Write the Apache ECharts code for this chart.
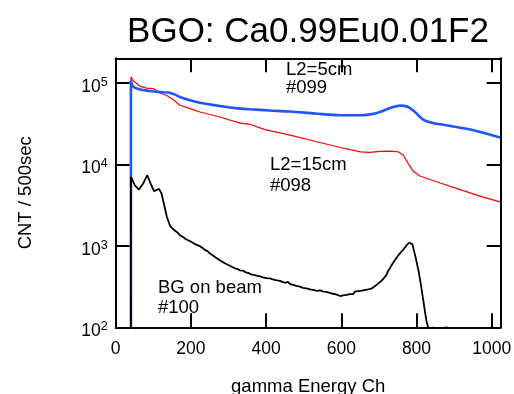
<!DOCTYPE html>
<html>
<head>
<meta charset="utf-8">
<script src="https://cdn.jsdelivr.net/npm/echarts@6/dist/echarts.min.js"></script>
<style>
  html, body { margin: 0; padding: 0; background: #fff; }
  #chart { width: 514px; height: 394px; }
</style>
</head>
<body>
<div id="chart"></div>
<script>
// 数据：按图读取的 [道, 计数]
const titleText = 'BGO: Ca0.99Eu0.01F2';
const xName = 'gamma Energy Ch';
const yName = 'CNT / 500sec';
const xTickLabels = ['0', '200', '400', '600', '800', '1000'];
const yTickExps = [2, 3, 4, 5];

// L2=5cm #099
const run099 = [
  [40.5, 10], [40.5, 107000], [46, 90600], [65, 82600], [91, 79500], [118, 77000],
  [140, 76000], [158, 71600], [171, 67000], [198, 61000], [224, 57000], [277, 52000],
  [331, 48300], [357, 47300], [410, 45800], [464, 44400], [530, 42000], [597, 40000],
  [651, 40000], [677, 41000], [703, 43900], [730, 49100], [756, 52500], [778, 50500],
  [796, 43800], [818, 35400], [845, 32000], [863, 31000], [943, 26700], [1022, 21300],
];

// L2=15cm #098
const run098 = [
  [40.5, 10], [40.5, 118000], [46, 107000], [65, 90600], [82, 86000], [100, 85000],
  [118, 75000], [136, 70000], [153, 62000], [171, 53000], [198, 48300], [224, 43900],
  [277, 38100], [331, 32000], [357, 31000], [397, 26700], [464, 22800], [530, 19200],
  [597, 16100], [651, 14200], [676, 14000], [703, 14400], [730, 14500], [752, 14200],
  [765, 12900], [778, 10200], [791, 8300], [809, 7200], [863, 5900], [916, 4900],
  [969, 4070], [1022, 3460],
];

// BG on beam #100
const run100 = [
  [40.5, 10], [40.5, 7000], [51, 5500], [62, 4900], [73, 5800], [84, 7350], [93, 5800],
  [102, 4680], [115, 5000], [122, 4390], [128, 3300], [136, 2270], [144, 1790],
  [150, 1650], [154, 1560], [158, 1530], [161, 1480], [164, 1460], [168, 1410], [171, 1350],
  [175, 1330], [178, 1290], [182, 1260], [185, 1220], [188, 1230], [191, 1180], [195, 1170],
  [198, 1140], [201, 1150], [204, 1100], [208, 1090], [211, 1050], [214, 1070], [217, 1020],
  [221, 1010], [224, 990], [227, 970], [230, 950], [234, 930], [237, 890], [241, 900],
  [244, 860], [247, 850], [251, 800], [254, 810], [257, 770], [261, 760], [264, 730],
  [267, 745], [270, 700], [274, 690], [277, 665], [280, 670], [283, 640], [287, 625],
  [290, 610], [293, 620], [297, 590], [300, 595], [304, 570], [307, 575], [310, 550],
  [314, 555], [317, 530], [321, 540], [324, 520], [327, 525], [330, 500], [334, 512],
  [339, 495], [342, 505], [346, 472], [349, 482], [352, 465], [355, 476], [358, 450],
  [362, 462], [366, 440], [370, 452], [375, 430], [379, 444], [384, 422], [388, 432],
  [392, 410], [396, 425], [400, 402], [405, 418], [410, 398], [414, 410], [418, 388],
  [422, 398], [426, 380], [431, 392], [437, 372], [441, 382], [445, 358], [449, 370],
  [452, 352], [458, 362], [464, 338], [468, 350], [472, 332], [476, 344], [480, 322],
  [485, 332], [490, 315], [494, 326], [498, 304], [503, 318], [507, 300], [512, 310],
  [517, 292], [521, 304], [525, 288], [530, 298], [535, 280], [540, 294], [544, 284],
  [548, 292], [552, 274], [556, 286], [560, 272], [565, 282], [570, 264], [574, 274],
  [578, 258], [582, 270], [586, 254], [591, 264], [597, 242], [601, 256], [605, 246],
  [610, 260], [614, 250], [618, 264], [623, 256], [627, 268], [632, 256], [636, 274],
  [641, 264], [645, 278], [650, 266], [655, 282], [660, 272], [664, 288], [668, 274],
  [672, 292], [676, 282], [680, 298], [685, 296], [689, 318], [694, 326], [698, 344],
  [703, 350], [707, 372], [711, 380], [715, 410], [720, 440], [724, 486], [729, 528],
  [733, 570], [736, 600], [740, 640], [743, 668], [747, 712], [750, 740], [753, 778],
  [756, 807], [760, 850], [765, 900], [769, 950], [774, 1020], [777, 1050], [780, 1090],
  [783, 1120], [785, 1150],
  [789, 1050], [793, 885], [799, 680], [805, 503], [812, 330], [818, 216], [823, 150],
  [827, 117], [831, 100], [838, 80], [845, 101], [852, 80], [880, 101], [888, 80], [1024, 80],
];

// 图中文字标注：[文字, left, top, 行高]
const notes = [
  ['L2=5cm\n#099', 286, 60, 18.5],
  ['L2=15cm\n#098', 270, 154, 21],
  ['BG on beam\n#100', 158, 277.5, 20],
];

const chart = echarts.init(document.getElementById('chart'), null, { renderer: 'canvas' });

const font = 'Liberation Sans, Arial, Helvetica, sans-serif';
const frame = { show: true, onZero: false, lineStyle: { color: '#000', width: 2 } };
const tick = { show: true, inside: true, length: 14, lineStyle: { color: '#000', width: 2 } };

// 对数轴标签：10 的幂，指数做上标
function yLabel(v) {
  const e = Math.round(Math.log10(v));
  if (Math.abs(Math.log10(v) - e) > 1e-6 || !yTickExps.includes(e)) return '';
  return '{b|10}{s|' + e + '}';
}

const option = {
  backgroundColor: '#fff',
  animation: false,
  title: {
    text: titleText,
    left: 303,
    top: 10,
    textAlign: 'center',
    textStyle: { fontFamily: font, fontSize: 35, fontWeight: 'normal', color: '#000' },
  },
  grid: { left: 115.7, right: 13.3, top: 58.3, bottom: 66.7, containLabel: false, outerBoundsMode: 'none' },
  xAxis: [
    {
      type: 'value', min: 0, max: 1024, interval: 200, position: 'bottom',
      name: xName, nameLocation: 'middle', nameGap: 50,
      nameTextStyle: { fontFamily: font, fontSize: 18.5, color: '#000' },
      axisLine: frame, axisTick: tick, splitLine: { show: false },
      axisLabel: {
        margin: 13, fontFamily: font, fontSize: 17.5, color: '#000', showMaxLabel: false,
        formatter: (v) => (xTickLabels.includes(String(v)) ? String(v) : ''),
      },
    },
    {
      type: 'value', min: 0, max: 1024, interval: 200, position: 'top',
      axisLine: frame, axisTick: tick, axisLabel: { show: false }, splitLine: { show: false },
    },
  ],
  yAxis: [
    {
      type: 'log', logBase: 10, min: 100, max: 200000, position: 'left',
      name: yName, nameLocation: 'middle', nameGap: 80,
      nameTextStyle: { fontFamily: font, fontSize: 18.5, color: '#000' },
      axisLine: frame, axisTick: tick, splitLine: { show: false }, minorTick: { show: false },
      axisLabel: {
        margin: 8, showMaxLabel: false, formatter: yLabel, padding: [6, 0, 0, 0],
        rich: {
          b: { fontFamily: font, fontSize: 17.5, color: '#000', lineHeight: 20, verticalAlign: 'bottom' },
          s: { fontFamily: font, fontSize: 12.5, color: '#000', lineHeight: 4, verticalAlign: 'top' },
        },
      },
    },
    {
      type: 'log', logBase: 10, min: 100, max: 200000, position: 'right',
      axisLine: frame, axisTick: tick, axisLabel: { show: false }, splitLine: { show: false },
    },
  ],
  graphic: notes.map(([t, x, y, lh]) => ({
    type: 'text', left: x, top: y, z: 10,
    style: { text: t, font: '18.5px ' + font, fill: '#000', lineHeight: lh },
  })),
  series: [
    { type: 'line', name: '#098', data: run098, showSymbol: false, clip: true,
      lineStyle: { color: '#ff0000', width: 1.2 } },
    { type: 'line', name: '#099', data: run099, showSymbol: false, clip: true, smooth: 0.3,
      lineStyle: { color: '#1f55ff', width: 2.6 } },
    { type: 'line', name: '#100', data: run100, showSymbol: false, clip: true,
      lineStyle: { color: '#000', width: 1.8 } },
  ],
};

chart.setOption(option);
</script>
</body>
</html>
